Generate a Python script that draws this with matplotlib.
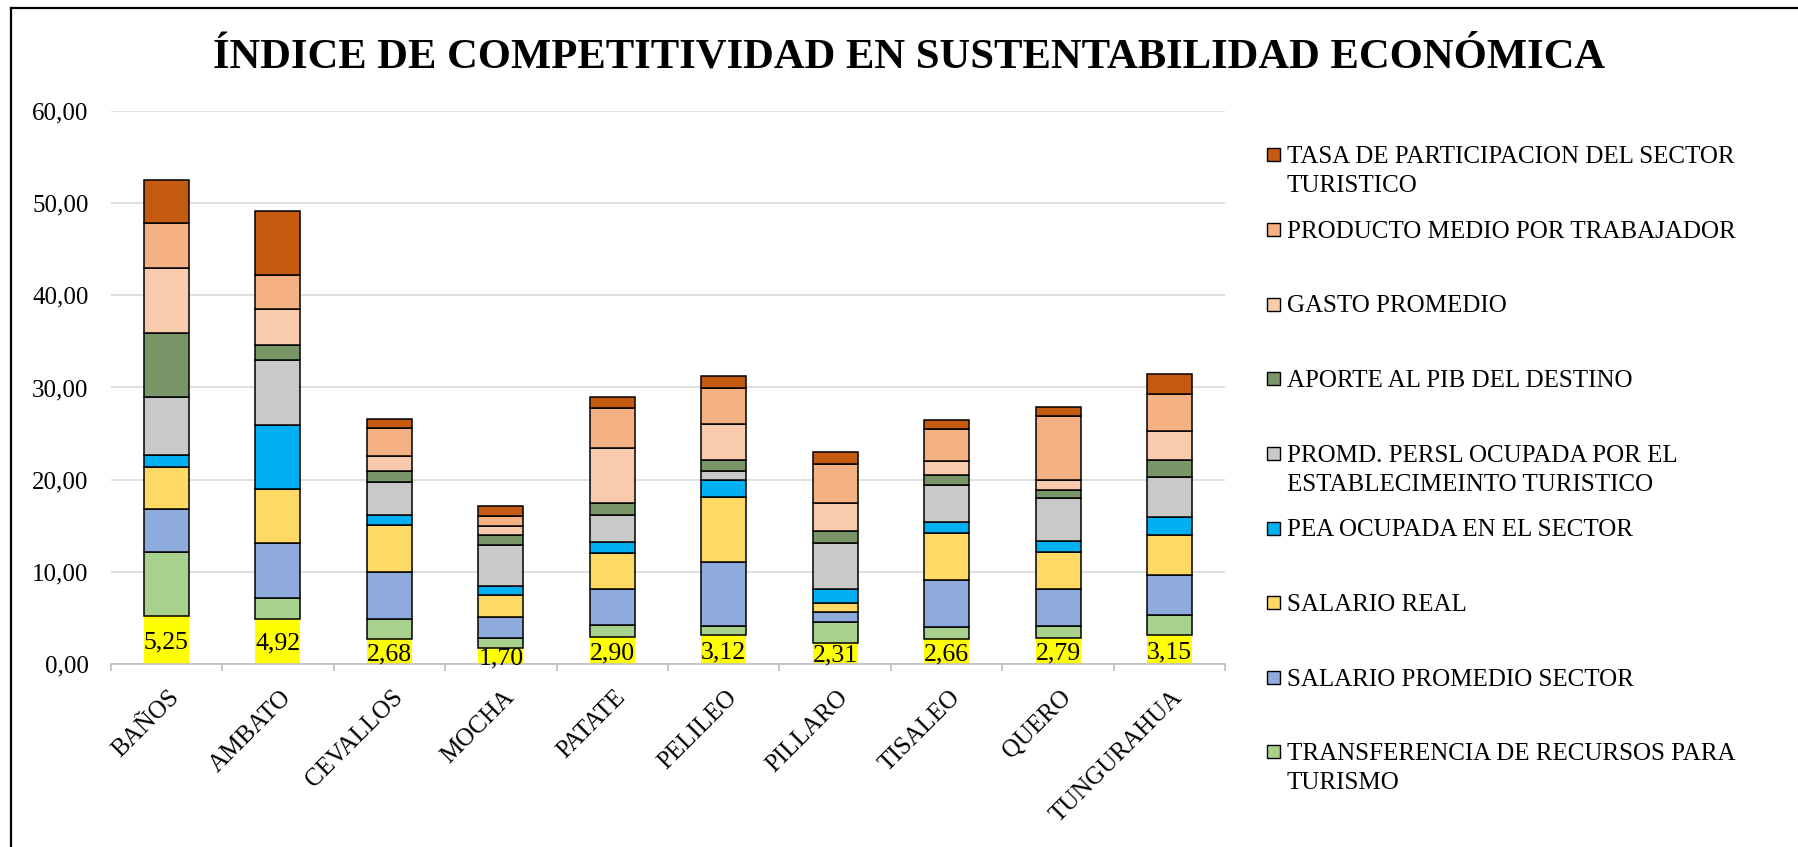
import matplotlib
matplotlib.use("Agg")
import matplotlib.pyplot as plt
import matplotlib.transforms as mtransforms
from matplotlib.patches import Rectangle
from matplotlib.lines import Line2D
from matplotlib.ticker import FuncFormatter, FixedLocator
import numpy as np

plt.rcParams['font.family'] = ['Liberation Serif', 'DejaVu Serif']

# ---------------- data ----------------
categories = ["BAÑOS", "AMBATO", "CEVALLOS", "MOCHA", "PATATE", "PELILEO",
              "PILLARO", "TISALEO", "QUERO", "TUNGURAHUA"]

base_values = [5.25, 4.92, 2.68, 1.70, 2.90, 3.12, 2.31, 2.66, 2.79, 3.15]
transferencia = [6.95, 2.26, 2.20, 1.12, 1.33, 1.03, 2.25, 1.32, 1.36, 2.16]
salario_promedio = [4.60, 5.90, 5.10, 2.28, 3.94, 6.93, 1.08, 5.15, 3.98, 4.35]
salario_real = [4.62, 5.90, 5.10, 2.37, 3.86, 7.02, 0.96, 5.10, 4.07, 4.33]
pea_ocupada = [1.30, 7.00, 1.10, 0.95, 1.17, 1.86, 1.49, 1.16, 1.16, 1.98]
promd_persl = [6.20, 7.00, 3.60, 4.53, 3.00, 1.00, 5.06, 4.07, 4.61, 4.27]
aporte_pib = [7.00, 1.60, 1.15, 1.05, 1.30, 1.12, 1.25, 1.00, 0.87, 1.90]
gasto_promedio = [7.00, 3.90, 1.60, 1.00, 5.90, 4.00, 3.07, 1.61, 1.08, 3.18]
producto_medio = [4.92, 3.70, 3.10, 1.06, 4.40, 3.90, 4.27, 3.43, 7.01, 3.95]
tasa_participacion = [4.62, 7.00, 1.00, 1.04, 1.20, 1.24, 1.29, 1.00, 0.95, 2.20]

series_labels = [
    "TRANSFERENCIA DE RECURSOS PARA\nTURISMO",
    "SALARIO PROMEDIO SECTOR",
    "SALARIO REAL",
    "PEA OCUPADA EN EL SECTOR",
    "PROMD. PERSL OCUPADA POR EL\nESTABLECIMEINTO TURISTICO",
    "APORTE AL PIB DEL DESTINO",
    "GASTO PROMEDIO",
    "PRODUCTO MEDIO POR TRABAJADOR",
    "TASA DE PARTICIPACION DEL SECTOR\nTURISTICO",
]
series_values = [transferencia, salario_promedio, salario_real, pea_ocupada,
                 promd_persl, aporte_pib, gasto_promedio, producto_medio,
                 tasa_participacion]
series_colors = ["#A9D18E", "#8FAADC", "#FFD966", "#00B0F0", "#C9C9C9",
                 "#7A9669", "#F8CBAD", "#F4B183", "#C55A11"]

title = "ÍNDICE DE COMPETITIVIDAD EN SUSTENTABILIDAD ECONÓMICA"

# ---------------- figure ----------------
W, H = 1799, 847
fig = plt.figure(figsize=(W / 100, H / 100), dpi=100)
fig.patch.set_facecolor("white")

def fx(px):
    return px / W

def fy(py):
    return 1 - py / H

ax_left, ax_right, ax_top, ax_bottom = 110.7, 1225.3, 111.0, 664.0
ax = fig.add_axes([fx(ax_left), fy(ax_bottom), fx(ax_right - ax_left),
                   (ax_bottom - ax_top) / H])

x = np.arange(len(categories))
bw = 0.404
edge_lw = 1.1

# base yellow series with labels
ax.bar(x, base_values, width=bw, color="#FFFF00", edgecolor="none", zorder=3)
for xi, v in zip(x, base_values):
    ax.text(xi, v / 2, f"{v:.2f}".replace(".", ","), ha="center",
            va="center_baseline", fontsize=18.5, color="black", zorder=5)

bottom = np.array(base_values, dtype=float)
for vals, col in zip(series_values, series_colors):
    ax.bar(x, vals, width=bw, bottom=bottom, color=col, edgecolor="black",
           linewidth=edge_lw, zorder=3)
    bottom = bottom + np.array(vals)

ax.set_xlim(-0.5, len(categories) - 0.5)
ax.set_ylim(0, 60)
ax.set_yticks(np.arange(0, 61, 10))
ax.yaxis.set_major_formatter(FuncFormatter(lambda v, p: f"{v:.2f}".replace(".", ",")))
ax.grid(axis="y", color="#d9d9d9", linewidth=1.2, zorder=0)
ax.set_axisbelow(True)
for s in ["left", "right", "top"]:
    ax.spines[s].set_visible(False)
ax.spines["bottom"].set_color("#bfbfbf")
ax.spines["bottom"].set_linewidth(1.2)
ax.spines["bottom"].set_zorder(4)

ax.tick_params(axis="y", length=0, pad=16, labelsize=18)
ax.set_xticks(x)
ax.set_xticklabels(categories, rotation=45, ha="right", va="top",
                   rotation_mode="anchor", fontsize=18)
ax.tick_params(axis="x", which="major", length=0, pad=16)
ax.xaxis.set_minor_locator(FixedLocator(np.arange(-0.5, len(categories), 1.0)))
ax.tick_params(axis="x", which="minor", length=5, width=1.2, color="#bfbfbf",
               direction="out")
offset = mtransforms.ScaledTranslation(2 / 100, 0, fig.dpi_scale_trans)
for lab in ax.get_xticklabels():
    lab.set_transform(lab.get_transform() + offset)

# title
fig.text(fx(909), fy(68), title, ha="center", va="baseline", fontsize=30.7,
         fontweight="bold")

# chart frame (left and top edges visible)
fig.add_artist(Line2D([fx(11), fx(11)], [fy(8), -0.05], transform=fig.transFigure,
                      color="black", linewidth=1.6))
fig.add_artist(Line2D([fx(11), 1.05], [fy(8), fy(8)], transform=fig.transFigure,
                      color="black", linewidth=1.6))

# legend (top-to-bottom order: reverse of stacking)
leg_first = 155.0
leg_step = 74.6
line_gap = 29.0
msize = 13
for i, (lab, col) in enumerate(zip(series_labels[::-1], series_colors[::-1])):
    yc = leg_first + i * leg_step
    fig.add_artist(Rectangle((fx(1267), fy(yc + msize / 2)), msize / W, msize / H,
                             transform=fig.transFigure, facecolor=col,
                             edgecolor="black", linewidth=1.0))
    for j, line in enumerate(lab.split("\n")):
        fig.text(fx(1287), fy(yc + j * line_gap + 8.3), line, ha="left",
                 va="baseline", fontsize=18)

fig.savefig("out.png", dpi=100, facecolor="white")
